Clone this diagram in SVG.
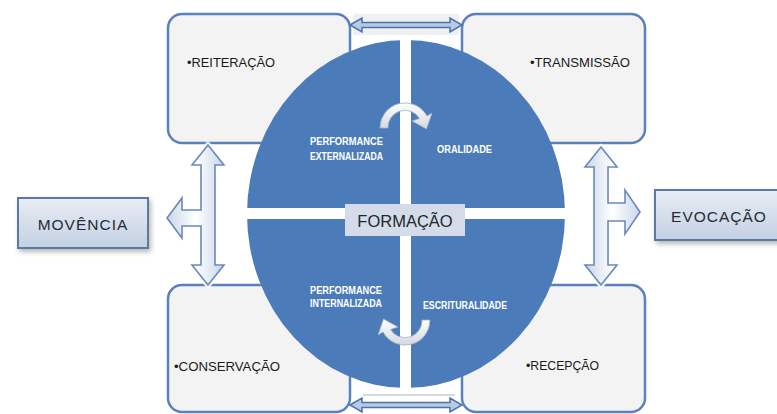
<svg xmlns="http://www.w3.org/2000/svg" width="777" height="414" viewBox="0 0 777 414">
  <style>
    .box { fill: #f3f3f4; stroke: #5a81bb; stroke-width: 2.5; }
    .btxt { font-family: "Liberation Sans", Arial, sans-serif; font-size: 13.5px; fill: #1a1a1a; }
    .side { fill: url(#sideGrad); stroke: #5b79a6; stroke-width: 2; filter: url(#shadow); }
    .stxt { font-family: "Liberation Sans", Arial, sans-serif; font-size: 15.5px; fill: #262b33; text-anchor: middle; letter-spacing: 1px; }
    .ctxt { font-family: "Liberation Sans", Arial, sans-serif; font-size: 10.5px; font-weight: bold; fill: #ffffff; }
    .varrow { fill: url(#arrowGrad); stroke: #6a89bb; stroke-width: 1.6; stroke-linejoin: miter; }
    .glow { fill: none; stroke: #ffffff; stroke-width: 6; stroke-linejoin: round; opacity: 0.9; }
    .harrow { fill: #b9cae3; stroke: #4d73ad; stroke-width: 1.5; }
    .curl { fill: url(#curlGrad); stroke: #a4b0c0; stroke-width: 0.8; }
  </style>
  <defs>
    <linearGradient id="sideGrad" x1="0" y1="0" x2="0" y2="1">
      <stop offset="0" stop-color="#e8edf5"/>
      <stop offset="1" stop-color="#c3d0e3"/>
    </linearGradient>
    <linearGradient id="arrowGrad" x1="0" y1="0" x2="1" y2="0">
      <stop offset="0" stop-color="#c9d6ea"/>
      <stop offset="0.5" stop-color="#ffffff"/>
      <stop offset="1" stop-color="#c9d6ea"/>
    </linearGradient>
    <linearGradient id="curlGrad" x1="0" y1="0" x2="0" y2="1">
      <stop offset="0" stop-color="#ffffff"/>
      <stop offset="1" stop-color="#d3d9e2"/>
    </linearGradient>
    <filter id="shadow" x="-20%" y="-30%" width="150%" height="170%">
      <feDropShadow dx="2" dy="3" stdDeviation="2.5" flood-color="#000000" flood-opacity="0.28"/>
    </filter>
  </defs>

  <!-- corner boxes -->
  <g id="node-reiteracao">
    <rect class="box" x="168" y="14" width="182" height="129" rx="14"/>
    <text class="btxt" x="187" y="67" textLength="88" lengthAdjust="spacingAndGlyphs">•REITERAÇÃO</text>
  </g>
  <g id="node-transmissao">
    <rect class="box" x="462" y="14" width="183" height="129" rx="14"/>
    <text class="btxt" x="530" y="67" textLength="100" lengthAdjust="spacingAndGlyphs">•TRANSMISSÃO</text>
  </g>
  <g id="node-conservacao">
    <rect class="box" x="168" y="285" width="182" height="127" rx="14"/>
    <text class="btxt" x="174" y="371" textLength="106" lengthAdjust="spacingAndGlyphs">•CONSERVAÇÃO</text>
  </g>
  <g id="node-recepcao">
    <rect class="box" x="462" y="285" width="183" height="127" rx="14"/>
    <text class="btxt" x="526" y="370" textLength="73" lengthAdjust="spacingAndGlyphs">•RECEPÇÃO</text>
  </g>

  <!-- central circle -->
  <g id="node-circle">
    <ellipse cx="406" cy="214" rx="159" ry="174" fill="#4b7bb8"/>
    <rect x="400" y="36" width="11" height="358" fill="#ffffff"/>
    <rect x="246" y="208" width="320" height="11" fill="#ffffff"/>
    <text class="ctxt" x="310" y="145" textLength="73" lengthAdjust="spacingAndGlyphs">PERFORMANCE</text>
    <text class="ctxt" x="310" y="160" textLength="73" lengthAdjust="spacingAndGlyphs">EXTERNALIZADA</text>
    <text class="ctxt" x="437" y="153" textLength="55" lengthAdjust="spacingAndGlyphs">ORALIDADE</text>
    <text class="ctxt" x="310" y="294" textLength="72" lengthAdjust="spacingAndGlyphs">PERFORMANCE</text>
    <text class="ctxt" x="310" y="307" textLength="72" lengthAdjust="spacingAndGlyphs">INTERNALIZADA</text>
    <text class="ctxt" x="423" y="309" textLength="84" lengthAdjust="spacingAndGlyphs">ESCRITURALIDADE</text>
  </g>

  <g id="node-formacao">
    <rect x="345" y="204" width="120" height="32" fill="#d3dce8"/>
    <text x="405" y="227" font-family="'Liberation Sans', Arial, sans-serif" font-size="16.5" fill="#22272e" text-anchor="middle">FORMAÇÃO</text>
  </g>

  <!-- side nodes -->
  <g id="node-movencia">
    <rect class="side" x="18" y="198" width="130" height="50"/>
    <text class="stxt" x="83" y="230">MOVÊNCIA</text>
  </g>
  <g id="node-evocacao">
    <rect class="side" x="655" y="190" width="130" height="50"/>
    <text class="stxt" x="719" y="222">EVOCAÇÃO</text>
  </g>

  <!-- connectors -->
  <g id="connectors">
    <!-- top double arrow -->
    <rect x="353" y="14" width="106" height="21" fill="#eef0f3"/>
    <polygon class="harrow" points="350,25 362,18 362,22.5 450,22.5 450,18 462,25 450,32 450,27.5 362,27.5 362,32"/>
    <!-- bottom double arrow -->
    <line x1="363" y1="395" x2="455" y2="395" stroke="#d6d9de" stroke-width="2"/>
    <polygon class="harrow" points="350,405 362,398 362,402.5 450,402.5 450,398 462,405 450,412 450,407.5 362,407.5 362,412"/>

    <!-- left T arrow -->
    <polygon class="glow" points="208,145 224,165 215,165 215,265 224,265 208,285 192,265 201,265 201,226 182,226 182,238 167,218 182,198 182,210 201,210 201,165 192,165"/>
    <polygon class="varrow" points="208,145 224,165 215,165 215,265 224,265 208,285 192,265 201,265 201,226 182,226 182,238 167,218 182,198 182,210 201,210 201,165 192,165"/>
    <!-- right T arrow -->
    <polygon class="glow" points="601,147 617,167 608,167 608,203 625,203 625,190 640,212 625,234 625,221 608,221 608,265 617,265 601,285 585,265 594,265 594,167 585,167"/>
    <polygon class="varrow" points="601,147 617,167 608,167 608,203 625,203 625,190 640,212 625,234 625,221 608,221 608,265 617,265 601,285 585,265 594,265 594,167 585,167"/>

    <!-- top curved arrow (clockwise) -->
    <path class="curl" d="M 380 128 A 25 25 0 0 1 427 116 L 432 113 L 426.5 129 L 412 121 L 419.5 118.5 A 17 17 0 0 0 388 128 Z"/>
    <!-- bottom curved arrow (clockwise) -->
    <path class="curl" d="M 430 320 A 25 25 0 0 1 383 332 L 378 335 L 383.5 319 L 398 327 L 390.5 329.5 A 17 17 0 0 0 422 320 Z"/>
  </g>
</svg>
